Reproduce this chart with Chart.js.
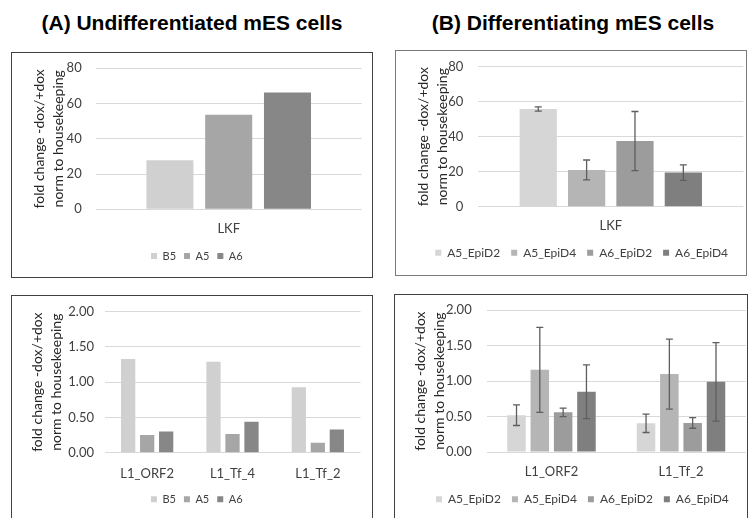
<!DOCTYPE html>
<html>
<head>
<meta charset="utf-8">
<script src="https://cdn.jsdelivr.net/npm/chart.js@4.4.1/dist/chart.umd.min.js"></script>
<style>
  body { margin: 0; background: #fff; width: 749px; height: 518px; overflow: hidden; position: relative; }
  .title { position: absolute; width: 400px; text-align: center; font: bold 21px "Liberation Sans", Arial, sans-serif; line-height: 21px; color: #000; top: 12px; }
  .panel { position: absolute; border: 1px solid #404040; }
  .panel canvas { display: block; }
</style>
</head>
<body>
<div class="title" style="left: -8px;">(A) Undifferentiated mES cells</div>
<div class="title" style="left: 373px;">(B) Differentiating mES cells</div>

<div class="panel" style="left: 11px; top: 52px;"><canvas id="chartA" width="360" height="224"></canvas></div>
<div class="panel" style="left: 395px; top: 50px; border-color: #7a7a7a;"><canvas id="chartB" width="350" height="224"></canvas></div>
<div class="panel" style="left: 11px; top: 295px;"><canvas id="chartC" width="360" height="225"></canvas></div>
<div class="panel" style="left: 394px; top: 294px;"><canvas id="chartD" width="352" height="226"></canvas></div>

<script>
// (A) undifferentiated, LKF
const lkfLabels = ['LKF'];
const undiffSeries = ['B5', 'A5', 'A6'];
const aB5 = [27.8];
const aA5 = [53.7];
const aA6 = [66.2];

// (A) undifferentiated, L1 elements
const l1UndiffLabels = ['L1_ORF2', 'L1_Tf_4', 'L1_Tf_2'];
const cB5 = [1.33, 1.29, 0.93];
const cA5 = [0.25, 0.265, 0.14];
const cA6 = [0.30, 0.44, 0.33];

// (B) differentiating, LKF (mean and error)
const diffSeries = ['A5_EpiD2', 'A5_EpiD4', 'A6_EpiD2', 'A6_EpiD4'];
const bA5D2 = [55.8];  const bA5D2Err = [1.2];
const bA5D4 = [21.0];  const bA5D4Err = [5.7];
const bA6D2 = [37.5];  const bA6D2Err = [16.9];
const bA6D4 = [19.5];  const bA6D4Err = [4.4];

// (B) differentiating, L1 elements
const l1DiffLabels = ['L1_ORF2', 'L1_Tf_2'];
const dA5D2 = [0.52, 0.405]; const dA5D2Err = [0.146, 0.13];
const dA5D4 = [1.16, 1.10];  const dA5D4Err = [0.60, 0.494];
const dA6D2 = [0.56, 0.41];  const dA6D2Err = [0.06, 0.075];
const dA6D4 = [0.85, 0.99];  const dA6D4Err = [0.38, 0.553];

// tick labels
const lkfTicks = [0, 20, 40, 60, 80];
const l1Ticks = [0, 0.25, 0.5, 0.75, 1, 1.25, 1.5, 1.75, 2];

const undiffColors = ['#d0d0d0', '#a6a6a6', '#878787'];
const diffColors = ['#d6d6d6', '#b5b5b5', '#9c9c9c', '#7f7f7f'];

Chart.defaults.font.family = 'Lato';
Chart.defaults.color = '#404040';

// Error bars drawn through the y scale
const errorBars = {
    id: 'errorBars',
    afterDatasetsDraw(chart) {
        const ctx = chart.ctx;
        const y = chart.scales.y;
        chart.data.datasets.forEach((ds, i) => {
            if (!ds.errors) return;
            const meta = chart.getDatasetMeta(i);
            meta.data.forEach((bar, j) => {
                const v = ds.data[j], e = ds.errors[j];
                const top = y.getPixelForValue(v + e);
                const bot = y.getPixelForValue(v - e);
                ctx.save();
                ctx.strokeStyle = '#5e5e5e';
                ctx.lineWidth = 1.3;
                ctx.beginPath();
                ctx.moveTo(bar.x, top); ctx.lineTo(bar.x, bot);
                ctx.moveTo(bar.x - 3.5, top); ctx.lineTo(bar.x + 3.5, top);
                ctx.moveTo(bar.x - 3.5, bot); ctx.lineTo(bar.x + 3.5, bot);
                ctx.stroke();
                ctx.restore();
            });
        });
    }
};

function makeChart(id, labels, datasets, ticks, decimals, box) {
    const ctx = document.getElementById(id).getContext('2d');
    return new Chart(ctx, {
        type: 'bar',
        data: { labels: labels, datasets: datasets },
        options: {
            responsive: false,
            maintainAspectRatio: false,
            animation: false,
            layout: { padding: { left: box.padL, right: box.padR, top: box.padT, bottom: box.padB } },
            datasets: { bar: { categoryPercentage: box.catPct, barPercentage: box.barPct } },
            plugins: {
                legend: {
                    position: 'bottom',
                    labels: { boxWidth: 6, boxHeight: 6, padding: box.legendPad, color: '#404040', font: { size: box.legendFont } }
                },
                tooltip: { enabled: false }
            },
            scales: {
                x: {
                    grid: { display: false, drawTicks: false },
                    border: { display: false },
                    ticks: { padding: box.xPad, color: '#404040', font: { size: 13 } },
                    afterFit: (scale) => { scale.height = box.xHeight; }
                },
                y: {
                    min: ticks[0],
                    max: ticks[ticks.length - 1],
                    grid: { color: '#d9d9d9', drawTicks: false },
                    border: { display: false },
                    afterBuildTicks: (scale) => { scale.ticks = ticks.map(v => ({ value: v })); },
                    ticks: {
                        padding: box.tickPad,
                        color: '#404040',
                        font: { size: 13 },
                        callback: (v) => Number(v).toFixed(decimals)
                    },
                    title: {
                        display: true,
                        text: ['fold change -dox/+dox', 'norm to housekeeping'],
                        color: '#262626',
                        font: { size: 14, lineHeight: 1.35 },
                        padding: { top: box.titlePad, bottom: 0 }
                    },
                    afterFit: (scale) => {
                        scale.width = box.yWidth;
                        scale.paddingTop = 0;
                        scale.paddingBottom = 0;
                    }
                }
            }
        },
        plugins: [errorBars]
    });
}

function series(names, colors, values, errors) {
    return names.map((n, i) => ({
        label: n,
        data: values[i],
        errors: errors ? errors[i] : null,
        backgroundColor: colors[i],
        borderWidth: 0
    }));
}

makeChart('chartA', lkfLabels,
    series(undiffSeries, undiffColors, [aB5, aA5, aA6]),
    lkfTicks, 0,
    { padL: 20, yWidth: 63.7, padR: 10.3, padT: 15.3, padB: 5.5, xHeight: 33.2,
      legendPad: 8, legendFont: 11,
      tickPad: 14, xPad: 12, titlePad: -2.1, catPct: 0.663, barPct: 0.8 });

makeChart('chartB', lkfLabels,
    series(diffSeries, diffColors, [bA5D2, bA5D4, bA6D2, bA6D4], [bA5D2Err, bA5D4Err, bA6D2Err, bA6D4Err]),
    lkfTicks, 0,
    { padL: 24, yWidth: 58.3, padR: 2.7, padT: 15.7, padB: 6.2, xHeight: 29.1,
      legendPad: 11, legendFont: 12,
      tickPad: 15, xPad: 11, titlePad: -6.1, catPct: 0.73, barPct: 0.77 });

makeChart('chartC', l1UndiffLabels,
    series(undiffSeries, undiffColors, [cB5, cA5, cA6]),
    l1Ticks, 2,
    { padL: 21, yWidth: 71.5, padR: 11.5, padT: 15.7, padB: 6.2, xHeight: 33.1,
      legendPad: 8, legendFont: 11,
      tickPad: 10.5, xPad: 13, titlePad: -5.2, catPct: 0.668, barPct: 0.75 });

makeChart('chartD', l1DiffLabels,
    series(diffSeries, diffColors, [dA5D2, dA5D4, dA6D2, dA6D4], [dA5D2Err, dA5D4Err, dA6D2Err, dA6D4Err]),
    l1Ticks, 2,
    { padL: 24, yWidth: 67.7, padR: 1.2, padT: 15.3, padB: 5.7, xHeight: 30.3,
      legendPad: 11, legendFont: 12,
      tickPad: 15, xPad: 12, titlePad: -8.1, catPct: 0.72, barPct: 0.794 });
</script>
</body>
</html>
